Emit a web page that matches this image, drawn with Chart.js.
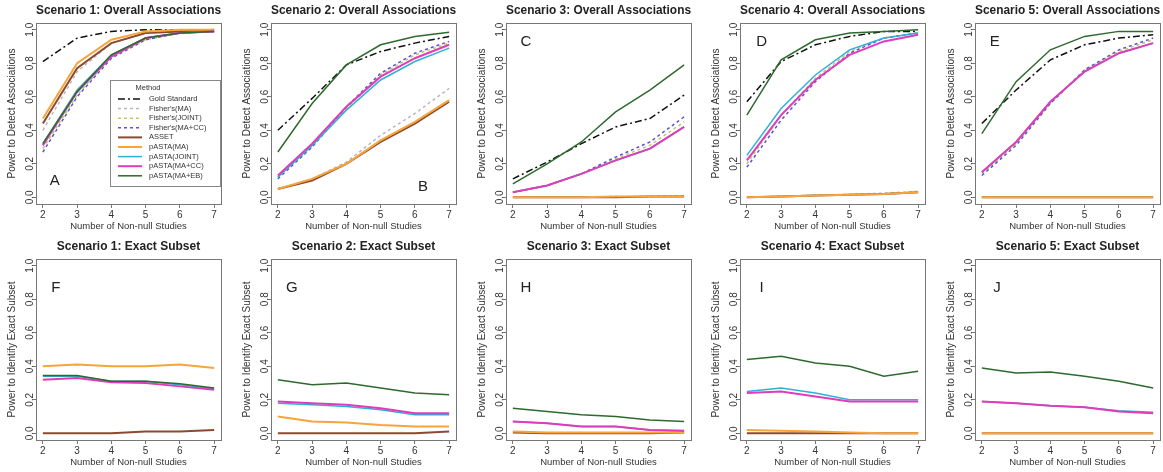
<!DOCTYPE html>
<html>
<head>
<meta charset="utf-8">
<script src="https://cdn.jsdelivr.net/npm/chart.js@4.4.0/dist/chart.umd.min.js"></script>
<style>
  html, body { margin: 0; padding: 0; background: #fff; overflow: hidden; }
  #wrap { position: relative; width: 1163px; height: 472px; overflow: hidden; }
  #wrap canvas { position: absolute; }
</style>
</head>
<body>
<div id="wrap"></div>
<script>
const studies = [2, 3, 4, 5, 6, 7];
const yTicks = [0, 0.2, 0.4, 0.6, 0.8, 1.0];

const methodKeys = ["gold", "fMA", "fJOINT", "fMACC", "asset", "pMA", "pJOINT", "pMACC", "pMAEB"];
const methodNames = ["Gold Standard", "Fisher's(MA)", "Fisher's(JOINT)", "Fisher's(MA+CC)", "ASSET",
  "pASTA(MA)", "pASTA(JOINT)", "pASTA(MA+CC)", "pASTA(MA+EB)"];

const overallTitles = ["Scenario 1: Overall Associations", "Scenario 2: Overall Associations",
  "Scenario 3: Overall Associations", "Scenario 4: Overall Associations", "Scenario 5: Overall Associations"];
const exactTitles = ["Scenario 1: Exact Subset", "Scenario 2: Exact Subset", "Scenario 3: Exact Subset",
  "Scenario 4: Exact Subset", "Scenario 5: Exact Subset"];
const panelLetters = ["A", "B", "C", "D", "E", "F", "G", "H", "I", "J"];

// overall associations, one object per scenario
const overall1 = {
  gold:   [0.81, 0.95, 0.99, 1.00, 1.00, 1.00],
  fMA:    [0.40, 0.75, 0.92, 0.98, 0.99, 1.00],
  fJOINT: [0.29, 0.61, 0.84, 0.94, 0.98, 0.99],
  fMACC:  [0.27, 0.60, 0.83, 0.94, 0.98, 0.99],
  asset:  [0.44, 0.77, 0.92, 0.98, 0.99, 1.00],
  pMA:    [0.47, 0.80, 0.94, 0.99, 1.00, 1.00],
  pJOINT: [0.32, 0.64, 0.85, 0.95, 0.98, 0.99],
  pMACC:  [0.31, 0.63, 0.84, 0.95, 0.98, 0.99],
  pMAEB:  [0.32, 0.63, 0.85, 0.95, 0.98, 0.99]
};
const overall2 = {
  gold:   [0.40, 0.59, 0.79, 0.87, 0.92, 0.96],
  fMA:    [0.05, 0.11, 0.21, 0.37, 0.50, 0.65],
  fJOINT: [0.12, 0.30, 0.53, 0.73, 0.85, 0.92],
  fMACC:  [0.11, 0.30, 0.54, 0.74, 0.86, 0.93],
  asset:  [0.05, 0.10, 0.20, 0.33, 0.44, 0.57],
  pMA:    [0.05, 0.11, 0.20, 0.34, 0.45, 0.58],
  pJOINT: [0.12, 0.31, 0.52, 0.70, 0.81, 0.89],
  pMACC:  [0.13, 0.32, 0.54, 0.72, 0.83, 0.91],
  pMAEB:  [0.27, 0.56, 0.79, 0.91, 0.96, 0.985]
};
const overall3 = {
  gold:   [0.11, 0.21, 0.32, 0.42, 0.47, 0.61],
  fMA:    [0.00, 0.00, 0.00, 0.005, 0.005, 0.01],
  fJOINT: [0.03, 0.07, 0.14, 0.23, 0.31, 0.45],
  fMACC:  [0.03, 0.07, 0.14, 0.24, 0.33, 0.48],
  asset:  [0.00, 0.00, 0.00, 0.00, 0.005, 0.005],
  pMA:    [0.00, 0.00, 0.00, 0.005, 0.005, 0.005],
  pJOINT: [0.03, 0.07, 0.14, 0.22, 0.29, 0.42],
  pMACC:  [0.03, 0.07, 0.14, 0.22, 0.29, 0.42],
  pMAEB:  [0.08, 0.20, 0.33, 0.51, 0.64, 0.79]
};
const overall4 = {
  gold:   [0.57, 0.81, 0.91, 0.96, 0.99, 0.99],
  fMA:    [0.00, 0.006, 0.012, 0.018, 0.025, 0.035],
  fJOINT: [0.20, 0.49, 0.71, 0.87, 0.95, 0.98],
  fMACC:  [0.18, 0.46, 0.69, 0.86, 0.95, 0.98],
  asset:  [0.00, 0.005, 0.01, 0.015, 0.02, 0.03],
  pMA:    [0.00, 0.005, 0.01, 0.015, 0.02, 0.03],
  pJOINT: [0.25, 0.53, 0.73, 0.88, 0.95, 0.98],
  pMACC:  [0.22, 0.49, 0.70, 0.85, 0.93, 0.97],
  pMAEB:  [0.49, 0.82, 0.94, 0.98, 0.99, 1.00]
};
const overall5 = {
  gold:   [0.44, 0.64, 0.82, 0.91, 0.95, 0.97],
  fMA:    [0, 0, 0, 0, 0, 0],
  fJOINT: [0.14, 0.32, 0.56, 0.76, 0.87, 0.94],
  fMACC:  [0.13, 0.31, 0.56, 0.76, 0.88, 0.95],
  asset:  [0, 0, 0, 0, 0, 0],
  pMA:    [0, 0, 0, 0, 0, 0],
  pJOINT: [0.15, 0.33, 0.57, 0.75, 0.86, 0.92],
  pMACC:  [0.15, 0.33, 0.57, 0.75, 0.86, 0.92],
  pMAEB:  [0.38, 0.69, 0.88, 0.96, 0.99, 0.99]
};

// exact subset, one object per scenario
const exact1 = {
  asset:  [0.00, 0.00, 0.00, 0.01, 0.01, 0.02],
  pMA:    [0.40, 0.41, 0.40, 0.40, 0.41, 0.39],
  pJOINT: [0.34, 0.34, 0.31, 0.31, 0.29, 0.265],
  pMACC:  [0.32, 0.33, 0.305, 0.30, 0.28, 0.26],
  pMAEB:  [0.345, 0.345, 0.31, 0.31, 0.295, 0.27]
};
const exact2 = {
  asset:  [0.00, 0.00, 0.00, 0.00, 0.00, 0.01],
  pMA:    [0.10, 0.07, 0.065, 0.05, 0.04, 0.04],
  pJOINT: [0.18, 0.17, 0.16, 0.14, 0.11, 0.11],
  pMACC:  [0.19, 0.18, 0.17, 0.15, 0.12, 0.12],
  pMAEB:  [0.32, 0.29, 0.30, 0.27, 0.24, 0.23]
};
const exact3 = {
  asset:  [0.005, 0.00, 0.00, 0.00, 0.00, 0.005],
  pMA:    [0.01, 0.005, 0.005, 0.005, 0.005, 0.005],
  pJOINT: [0.07, 0.06, 0.04, 0.04, 0.02, 0.015],
  pMACC:  [0.07, 0.06, 0.04, 0.04, 0.02, 0.015],
  pMAEB:  [0.15, 0.13, 0.11, 0.10, 0.08, 0.07]
};
const exact4 = {
  asset:  [0, 0, 0, 0, 0, 0],
  pMA:    [0.02, 0.015, 0.01, 0.005, 0.00, 0.00],
  pJOINT: [0.25, 0.27, 0.24, 0.20, 0.20, 0.20],
  pMACC:  [0.24, 0.25, 0.22, 0.19, 0.19, 0.19],
  pMAEB:  [0.44, 0.46, 0.42, 0.40, 0.34, 0.37]
};
const exact5 = {
  asset:  [0, 0, 0, 0, 0, 0],
  pMA:    [0, 0, 0, 0, 0, 0],
  pJOINT: [0.19, 0.18, 0.165, 0.155, 0.135, 0.125],
  pMACC:  [0.19, 0.18, 0.165, 0.155, 0.13, 0.12],
  pMAEB:  [0.39, 0.36, 0.365, 0.34, 0.31, 0.27]
};

const styles = {
  gold:   { color: "#111111", width: 1.5, dash: [7, 3, 2, 3] },
  fMA:    { color: "#bdb4c0", width: 1.5, dash: [3, 3] },
  fJOINT: { color: "#b4cf6a", width: 1.5, dash: [3, 3] },
  fMACC:  { color: "#5d52d4", width: 1.5, dash: [3, 3] },
  asset:  { color: "#8a4b2e", width: 2, dash: [] },
  pMA:    { color: "#f7a43a", width: 2, dash: [] },
  pJOINT: { color: "#2fb0d6", width: 1.5, dash: [] },
  pMACC:  { color: "#e03cba", width: 2, dash: [] },
  pMAEB:  { color: "#2e6a2e", width: 1.5, dash: [] }
};

const FONT = "'Liberation Sans', Arial, sans-serif";
const PW = 234.75, PH = 236;

// box around the plot region, like R's box()
const boxPlugin = {
  id: "rbox",
  afterDraw(chart) {
    const a = chart.chartArea, ctx = chart.ctx;
    ctx.save();
    ctx.strokeStyle = "#777";
    ctx.lineWidth = 1;
    ctx.strokeRect(Math.round(a.left) + 0.5, Math.round(a.top) + 0.5,
      Math.round(a.right - a.left), Math.round(a.bottom - a.top));
    ctx.restore();
  }
};

// panel letter placed in data units
const letterPlugin = {
  id: "letter",
  afterDatasetsDraw(chart, args, opts) {
    const x = chart.scales.x.getPixelForValue(opts.at[0]);
    const y = chart.scales.y.getPixelForValue(opts.at[1]);
    const ctx = chart.ctx;
    ctx.save();
    ctx.font = "15px " + FONT;
    ctx.fillStyle = "#222";
    ctx.textAlign = "center";
    ctx.textBaseline = "middle";
    ctx.fillText(opts.text, x, y);
    ctx.restore();
  }
};

// R-style legend box inside panel A
const rLegendPlugin = {
  id: "rlegend",
  afterDatasetsDraw(chart, args, opts) {
    if (!opts.show) return;
    const a = chart.chartArea, ctx = chart.ctx;
    const left = a.left + 74, top = a.top + 57, w = a.right - 1 - left, h = 106;
    ctx.save();
    ctx.fillStyle = "#fff";
    ctx.fillRect(left, top, w, h);
    ctx.strokeStyle = "#888";
    ctx.lineWidth = 1;
    ctx.strokeRect(Math.round(left) + 0.5, Math.round(top) + 0.5, Math.round(w), Math.round(h));
    ctx.font = "7.5px " + FONT;
    ctx.fillStyle = "#333";
    ctx.textBaseline = "middle";
    ctx.textAlign = "center";
    ctx.fillText("Method", left + 38, top + 8);
    ctx.textAlign = "left";
    methodKeys.forEach((k, i) => {
      const y = top + 19 + i * 9.6;
      const s = styles[k];
      ctx.strokeStyle = s.color;
      ctx.lineWidth = s.width;
      ctx.setLineDash(s.dash);
      ctx.beginPath();
      ctx.moveTo(left + 8, y);
      ctx.lineTo(left + 32, y);
      ctx.stroke();
      ctx.setLineDash([]);
      ctx.fillStyle = "#333";
      ctx.fillText(methodNames[i], left + 39, y);
    });
    ctx.restore();
  }
};

function makePanel(col, row, title, yTitle, letter, letterAt, series, showLegend) {
  const canvas = document.createElement("canvas");
  canvas.width = 235;
  canvas.height = PH;
  canvas.style.left = (col * PW) + "px";
  canvas.style.top = (row * PH) + "px";
  document.getElementById("wrap").appendChild(canvas);

  const keys = methodKeys.filter(k => series[k]);
  const datasets = keys.map((k, i) => ({
    label: methodNames[methodKeys.indexOf(k)],
    data: studies.map((s, j) => ({ x: s, y: series[k][j] })),
    borderColor: styles[k].color,
    borderWidth: styles[k].width,
    borderDash: styles[k].dash,
    pointRadius: 0,
    tension: 0,
    fill: false,
    order: keys.length - i
  }));

  new Chart(canvas, {
    type: "line",
    data: { datasets },
    plugins: [boxPlugin, letterPlugin, rLegendPlugin],
    options: {
      responsive: false,
      animation: false,
      layout: { padding: { left: 0, right: 14, top: 0, bottom: 0 } },
      plugins: {
        legend: { display: false },
        tooltip: { enabled: false },
        title: {
          display: true,
          text: title,
          fullSize: false,
          color: "#222",
          font: { family: FONT, size: 12, weight: "bold" },
          padding: { top: 3, bottom: 5.6 }
        },
        letter: { text: letter, at: letterAt },
        rlegend: { show: showLegend }
      },
      scales: {
        x: {
          type: "linear",
          min: 1.8, max: 7.2,
          afterBuildTicks: s => { s.ticks = studies.map(v => ({ value: v })); },
          afterFit: s => { s.height = 32; },
          grid: { drawOnChartArea: false, drawTicks: true, tickLength: 4, color: "#777" },
          border: { display: false },
          ticks: { color: "#333", font: { family: FONT, size: 10 }, padding: 1, maxRotation: 0 },
          title: {
            display: true, text: "Number of Non-null Studies", color: "#333",
            font: { family: FONT, size: 9.5 }, padding: { top: 0, bottom: 4 }
          }
        },
        y: {
          type: "linear",
          min: -0.04, max: 1.04,
          afterBuildTicks: s => { s.ticks = yTicks.map(v => ({ value: v })); },
          afterFit: s => { s.width = 36; },
          grid: { drawOnChartArea: false, drawTicks: true, tickLength: 4, color: "#777" },
          border: { display: false },
          ticks: {
            color: "#333", font: { family: FONT, size: 10 }, padding: -5,
            minRotation: 90, maxRotation: 90, crossAlign: "center",
            callback: v => v.toFixed(1)
          },
          title: {
            display: true, text: yTitle, color: "#333",
            font: { family: FONT, size: 10 }, padding: { top: 6, bottom: 0 }
          }
        }
      }
    }
  });
}

const overallData = [overall1, overall2, overall3, overall4, overall5];
const exactData = [exact1, exact2, exact3, exact4, exact5];
const overallLetterAt = [[2.35, 0.10], [6.24, 0.065], [2.38, 0.93], [2.43, 0.93], [2.38, 0.93]];
const exactLetterAt = [[2.38, 0.87], [2.41, 0.87], [2.38, 0.87], [2.43, 0.87], [2.44, 0.87]];

overallData.forEach((d, i) => {
  makePanel(i, 0, overallTitles[i], "Power to Detect Associations", panelLetters[i], overallLetterAt[i], d, i === 0);
});
exactData.forEach((d, i) => {
  makePanel(i, 1, exactTitles[i], "Power to Identify Exact Subset", panelLetters[i + 5], exactLetterAt[i], d, false);
});
</script>
</body>
</html>
